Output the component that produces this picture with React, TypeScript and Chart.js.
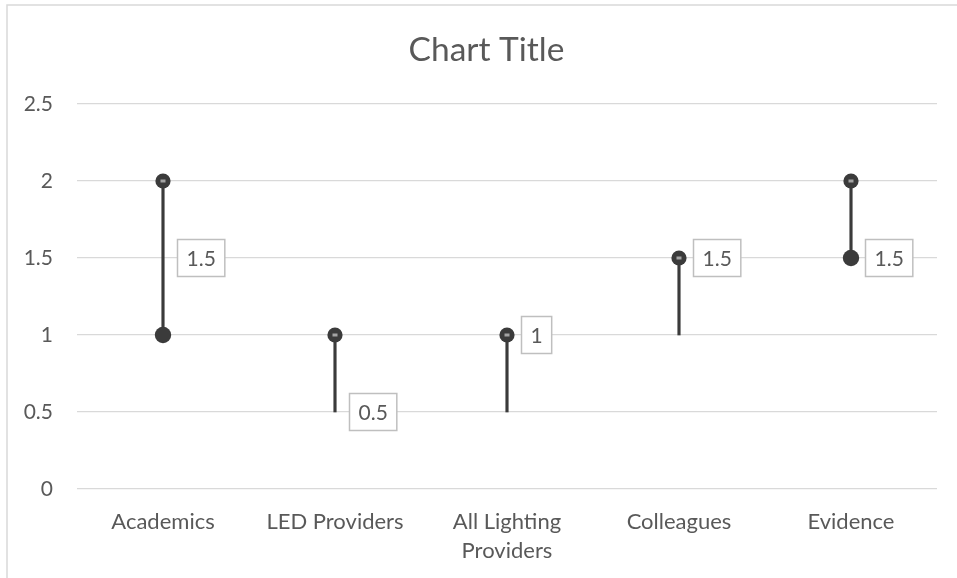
import React, { useEffect, useRef } from "react";
import { Chart, registerables } from "chart.js";

Chart.register(...registerables);

const titleText = "Chart Title";
const categories: (string | string[])[] = [
  "Academics",
  "LED Providers",
  ["All Lighting", "Providers"],
  "Colleagues",
  "Evidence",
];
const highValues = [2, 1, 1, 1.5, 2];
const lowValues = [1, 0.5, 0.5, 1, 1.5];
const lowMarkers: (number | null)[] = [1, null, null, null, 1.5];
const labelValues = [1.5, 0.5, 1, 1.5, 1.5];
const yTicks = [0, 0.5, 1, 1.5, 2, 2.5];

const FONT = "Lato";
const TEXT = "#595959";
const DARK = "#3b3b3b";

function makeDashMarker(): HTMLCanvasElement {
  const c = document.createElement("canvas");
  c.width = 16;
  c.height = 16;
  const ctx = c.getContext("2d")!;
  ctx.fillStyle = DARK;
  ctx.beginPath();
  ctx.arc(8, 8, 7.6, 0, Math.PI * 2);
  ctx.fill();
  ctx.fillStyle = "#a4a4a4";
  ctx.fillRect(5.5, 6.5, 5, 3);
  return c;
}

const framePlugin = {
  id: "frame",
  beforeDraw(chart: any) {
    const { ctx, width, height } = chart;
    ctx.save();
    ctx.fillStyle = "#ffffff";
    ctx.fillRect(0, 0, width, height);
    ctx.strokeStyle = "#d9d9d9";
    ctx.lineWidth = 1.5;
    ctx.beginPath();
    ctx.moveTo(7, height);
    ctx.lineTo(7, 5);
    ctx.lineTo(width, 5);
    ctx.stroke();
    // title, centred in the (wider, cropped) chart frame
    ctx.fillStyle = TEXT;
    ctx.font = `33.5px ${FONT}`;
    ctx.textAlign = "center";
    ctx.textBaseline = "middle";
    ctx.fillText(titleText, (width + 16) / 2, 50);
    ctx.restore();
  },
};

const boxLabelPlugin = {
  id: "boxLabels",
  afterDatasetsDraw(chart: any) {
    const { ctx } = chart;
    const xs = chart.scales.x;
    const ys = chart.scales.y;
    ctx.save();
    ctx.font = `21px ${FONT}`;
    labelValues.forEach((v, i) => {
      const x = xs.getPixelForValue(i);
      const y = ys.getPixelForValue(v);
      const txt = String(v);
      const w = ctx.measureText(txt).width;
      const padX = 9;
      const bw = w + padX * 2;
      const bh = 37;
      const bx = x + 14.5;
      const by = y - bh / 2;
      ctx.fillStyle = "#ffffff";
      ctx.fillRect(bx, by, bw, bh);
      ctx.strokeStyle = "#bfbfbf";
      ctx.lineWidth = 1.5;
      ctx.strokeRect(bx, by, bw, bh);
      ctx.fillStyle = TEXT;
      ctx.textAlign = "center";
      ctx.textBaseline = "middle";
      ctx.fillText(txt, bx + bw / 2, y + 1);
    });
    ctx.restore();
  },
};

export default function App() {
  const ref = useRef<HTMLCanvasElement>(null);
  useEffect(() => {
    if (!ref.current) return;
    const dash = makeDashMarker();
    const chart = new Chart(ref.current, {
      type: "bar",
      data: {
        labels: categories as any,
        datasets: [
          {
            type: "bar",
            data: categories.map((_, i) => [lowValues[i], highValues[i]]) as any,
            backgroundColor: DARK,
            barThickness: 2.5,
            order: 3,
          } as any,
          {
            type: "line",
            data: lowMarkers,
            showLine: false,
            pointRadius: 8.2,
            pointBackgroundColor: DARK,
            pointBorderWidth: 0,
            order: 2,
          } as any,
          {
            type: "line",
            data: highValues,
            showLine: false,
            pointStyle: dash,
            pointRadius: 8,
            order: 1,
          } as any,
        ],
      },
      options: {
        animation: false,
        responsive: true,
        maintainAspectRatio: false,
        layout: { padding: { left: 0, right: 20, top: 104, bottom: 0 } },
        plugins: {
          legend: { display: false },
          tooltip: { enabled: false },
          title: { display: false },
        },
        scales: {
          x: {
            grid: { display: false },
            border: { display: false },
            ticks: {
              color: TEXT,
              font: { family: FONT, size: 22, lineHeight: 1.32 },
              padding: 10,
              maxRotation: 0,
              autoSkip: false,
            },
            afterFit: (s: any) => {
              s.height = 89;
            },
          },
          y: {
            min: 0,
            max: 2.5,
            grid: { color: "#d9d9d9", lineWidth: 1.3, drawTicks: false },
            border: { display: false },
            afterBuildTicks: (s: any) => {
              s.ticks = yTicks.map((v) => ({ value: v }));
            },
            ticks: {
              color: TEXT,
              font: { family: FONT, size: 21 },
              padding: 24,
              callback: (v: any) => String(v),
            },
            afterFit: (s: any) => {
              s.width = 77;
            },
          },
        },
      },
      plugins: [framePlugin, boxLabelPlugin],
    });
    return () => chart.destroy();
  }, []);
  return (
    <div style={{ position: "fixed", left: 0, top: 0, width: 957, height: 578 }}>
      <canvas ref={ref} />
    </div>
  );
}
